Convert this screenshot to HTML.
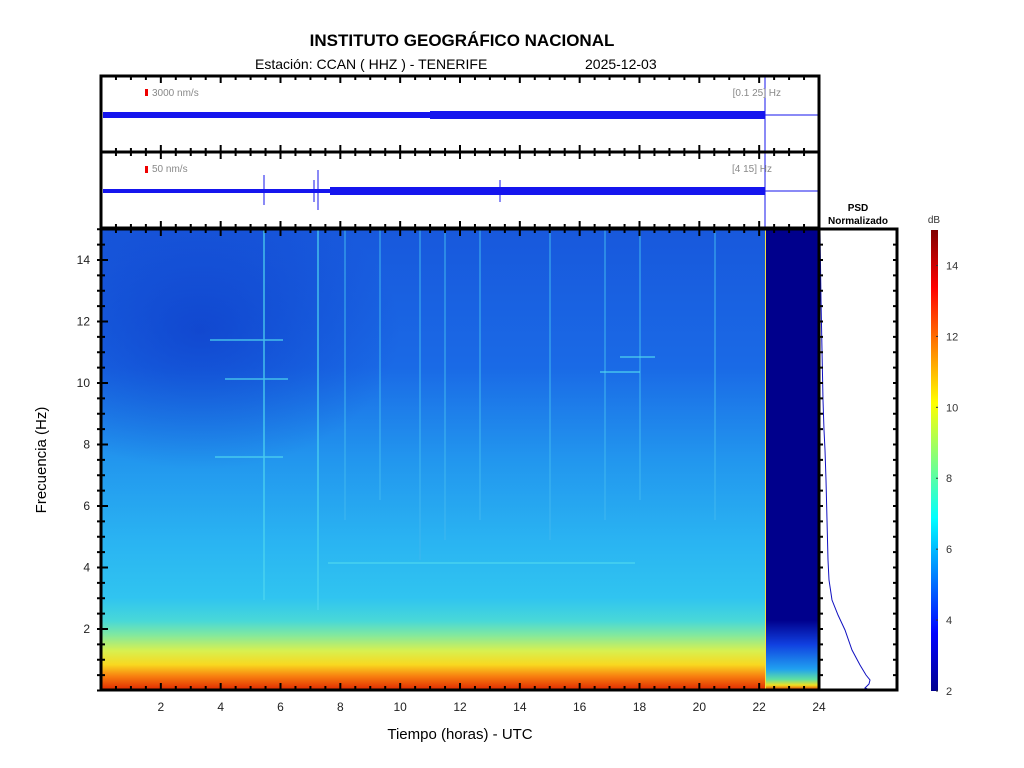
<!DOCTYPE html>
<html><head><meta charset="utf-8"><style>
body{margin:0;background:#fff;width:1024px;height:768px;overflow:hidden}
svg{display:block;font-family:"Liberation Sans",sans-serif}
</style></head><body>
<svg id="s" width="1024" height="768" viewBox="0 0 1024 768" xmlns="http://www.w3.org/2000/svg">
<defs>
<linearGradient id="gv" x1="0" y1="229" x2="0" y2="690" gradientUnits="userSpaceOnUse">
<stop offset="0" stop-color="#1858dc"/>
<stop offset="0.3" stop-color="#1a6ae6"/>
<stop offset="0.5" stop-color="#2296ee"/>
<stop offset="0.68" stop-color="#2ab4f2"/>
<stop offset="0.8" stop-color="#30c4f0"/>
<stop offset="0.85" stop-color="#48d8d8"/>
<stop offset="0.88" stop-color="#80e8a0"/>
<stop offset="0.915" stop-color="#d8f050"/>
<stop offset="0.945" stop-color="#f8d820"/>
<stop offset="0.97" stop-color="#f88010"/>
<stop offset="1" stop-color="#e02800"/>
</linearGradient>
<radialGradient id="dark" cx="200" cy="330" r="200" gradientUnits="userSpaceOnUse" gradientTransform="translate(200 330) scale(1 0.7) translate(-200 -330)">
<stop offset="0" stop-color="#0a30c0" stop-opacity="0.55"/>
<stop offset="1" stop-color="#0a30c0" stop-opacity="0"/>
</radialGradient>
<linearGradient id="cb" x1="0" y1="691" x2="0" y2="230" gradientUnits="userSpaceOnUse">
<stop offset="0" stop-color="#00008f"/>
<stop offset="0.125" stop-color="#0000ff"/>
<stop offset="0.375" stop-color="#00ffff"/>
<stop offset="0.625" stop-color="#ffff00"/>
<stop offset="0.875" stop-color="#ff0000"/>
<stop offset="1" stop-color="#800000"/>
</linearGradient>
<linearGradient id="rb" x1="0" y1="620" x2="0" y2="690" gradientUnits="userSpaceOnUse">
<stop offset="0" stop-color="#00008c"/>
<stop offset="0.35" stop-color="#1040e0"/>
<stop offset="0.7" stop-color="#20a0f0"/>
<stop offset="0.85" stop-color="#60e0a0"/>
<stop offset="0.93" stop-color="#f0e020"/>
<stop offset="1" stop-color="#e03000"/>
</linearGradient>
</defs>
<text x="462" y="46" font-size="17" font-weight="bold" text-anchor="middle">INSTITUTO GEOGRÁFICO NACIONAL</text>
<text x="255" y="69" font-size="14">Estación:  CCAN ( HHZ ) - TENERIFE</text>
<text x="585" y="69" font-size="14">2025-12-03</text>
<rect x="101" y="76" width="718" height="152" fill="#fff"/>
<rect x="103" y="112" width="662" height="6" fill="#1515ee"/>
<rect x="430" y="111" width="335" height="8" fill="#1515ee"/>
<line x1="765" y1="115" x2="819" y2="115" stroke="#1515ee"/>
<rect x="103" y="189" width="662" height="4" fill="#1515ee"/>
<rect x="330" y="187" width="435" height="8" fill="#1515ee"/>
<line x1="765" y1="191" x2="819" y2="191" stroke="#1515ee"/>
<line x1="264" y1="175" x2="264" y2="205" stroke="#1515ee"/>
<line x1="318" y1="170" x2="318" y2="210" stroke="#1515ee"/>
<line x1="314" y1="180" x2="314" y2="202" stroke="#1515ee"/>
<line x1="500" y1="180" x2="500" y2="202" stroke="#1515ee"/>
<line x1="765" y1="76" x2="765" y2="228" stroke="#1515ee"/>
<rect x="145" y="89" width="3" height="7" fill="#e00"/>
<rect x="145" y="166" width="3" height="7" fill="#e00"/>
<text x="152" y="96" font-size="10" fill="#888">3000 nm/s</text>
<text x="152" y="172" font-size="10" fill="#888">50 nm/s</text>
<text x="781" y="96" font-size="10" fill="#888" text-anchor="end">[0.1 25] Hz</text>
<text x="772" y="172" font-size="10" fill="#888" text-anchor="end">[4 15] Hz</text>
<rect x="101" y="229" width="664" height="461" fill="url(#gv)"/>
<rect x="101" y="229" width="664" height="461" fill="url(#dark)"/>
<g stroke="#40b8f0" stroke-width="2" opacity="0.5">
<line x1="345" y1="229" x2="345" y2="520"/><line x1="380" y1="229" x2="380" y2="500"/><line x1="420" y1="229" x2="420" y2="560"/>
<line x1="445" y1="229" x2="445" y2="540"/><line x1="480" y1="229" x2="480" y2="520"/><line x1="550" y1="229" x2="550" y2="540"/>
<line x1="605" y1="229" x2="605" y2="520"/><line x1="640" y1="229" x2="640" y2="500"/><line x1="715" y1="229" x2="715" y2="520"/>
</g>
<g stroke="#50d8f0" stroke-width="1.5" opacity="0.8">
<line x1="264" y1="229" x2="264" y2="600"/><line x1="318" y1="229" x2="318" y2="610"/>
<line x1="210" y1="340" x2="283" y2="340"/><line x1="225" y1="379" x2="288" y2="379"/><line x1="215" y1="457" x2="283" y2="457"/>
<line x1="328" y1="563" x2="635" y2="563"/><line x1="600" y1="372" x2="640" y2="372"/><line x1="620" y1="357" x2="655" y2="357"/>
</g>
<rect x="765" y="229" width="54" height="461" fill="#00008c"/>
<rect x="765" y="620" width="54" height="70" fill="url(#rb)"/>
<line x1="765.5" y1="229" x2="765.5" y2="690" stroke="#f0e040"/>
<text x="858" y="211" font-size="10" font-weight="bold" text-anchor="middle">PSD</text>
<text x="858" y="224" font-size="10" font-weight="bold" text-anchor="middle">Normalizado</text>
<polyline fill="none" stroke="#1010c0" stroke-width="1" points="820,230 821,300 822,350 823,400 824,430 825,450 826,480 827,520 828,560 829,580 832,600 838,615 845,630 852,650 860,665 866,675 870,680 869,684 865,688 870,690 897,690"/>
<rect x="931" y="230" width="7" height="461" fill="url(#cb)"/>
<text x="934" y="223" font-size="10" fill="#333" text-anchor="middle">dB</text>
<g id="cbt" font-size="11" fill="#333"></g>
<g fill="none" stroke="#000" stroke-width="3">
<rect x="101" y="76" width="718" height="76"/>
<rect x="101" y="152" width="718" height="76"/>
<rect x="101" y="229" width="718" height="461"/>
<rect x="819" y="229" width="78" height="461"/>
</g>
<g id="ticks" stroke="#000" stroke-width="2"></g>
<g id="labs" font-size="12" fill="#222"></g>
<text x="460" y="739" font-size="15" text-anchor="middle">Tiempo (horas) - UTC</text>
<text transform="translate(46 460) rotate(-90)" font-size="15" text-anchor="middle">Frecuencia  (Hz)</text>
</svg>
<script>
var NS="http://www.w3.org/2000/svg",T=document.getElementById("ticks"),L=document.getElementById("labs"),C=document.getElementById("cbt");
function ln(g,a,b,c,d){var e=document.createElementNS(NS,"line");e.setAttribute("x1",a);e.setAttribute("y1",b);e.setAttribute("x2",c);e.setAttribute("y2",d);g.appendChild(e);}
function tx(g,x,y,s,anc){var e=document.createElementNS(NS,"text");e.setAttribute("x",x);e.setAttribute("y",y);e.setAttribute("text-anchor",anc);e.textContent=s;g.appendChild(e);}
for(var i=0;i<=48;i++){var x=101+i*718/48,big=i%4==0,l=big?7:4;
[76,152,229].forEach(function(y){ln(T,x,y,x,y+l);});
[152,228,690].forEach(function(y){ln(T,x,y,x,y-l);});
if(i%4==0&&i>0)tx(L,x,711,String(i/2),"middle");}
for(var f=0;f<=30;f++){var y=690.5-f*15.375,big=f%4==0,l=big?7:4;if(y<229)continue;
ln(T,101,y,101+l,y);ln(T,97,y,101,y);ln(T,897,y,893,y);ln(T,819,y,823,y);
if(f%4==0&&f>0)tx(L,90,y+4,String(f/2),"end");}
for(var d=2;d<=14;d+=2){var y=691-(d-2)*35.46;tx(C,946,y+4,String(d),"start");var e=document.createElementNS(NS,"line");e.setAttribute("x1",936);e.setAttribute("x2",938);e.setAttribute("y1",y);e.setAttribute("y2",y);e.setAttribute("stroke","#333");C.appendChild(e);}
</script>
</body></html>
